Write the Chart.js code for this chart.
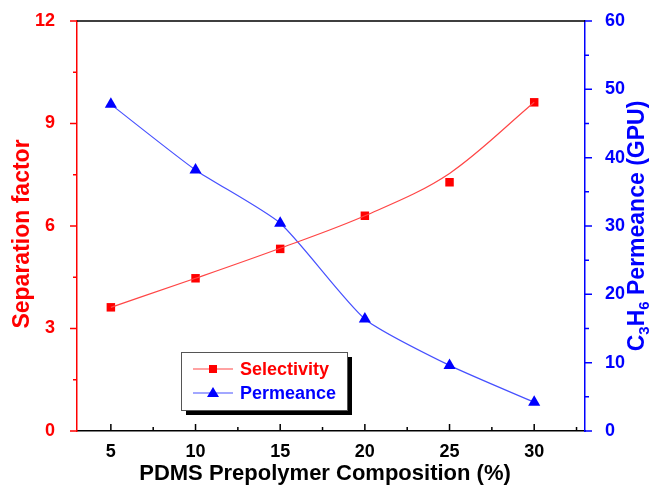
<!DOCTYPE html>
<html>
<head>
<meta charset="utf-8">
<script src="https://cdn.jsdelivr.net/npm/chart.js@4.4.0/dist/chart.umd.min.js"></script>
<style>
  html, body { margin: 0; padding: 0; background: #fff; }
  #wrap { width: 649px; height: 486px; }
</style>
</head>
<body>
<div id="wrap"><canvas id="c"></canvas></div>
<script>
// values
var composition = [5, 10, 15, 20, 25, 30];
var selectivity = [3.62, 4.47, 5.33, 6.3, 7.28, 9.62];
var selectivityFit = [3.62, 4.47, 5.35, 6.3, 7.54, 9.62]; // the drawn curve is a fit, misses the 25% point
var permeance = [47.8, 38.2, 30.4, 16.4, 9.6, 4.2];

var xTicks = [5, 10, 15, 20, 25, 30];
var xMinor = [7.5, 12.5, 17.5, 22.5, 27.5, 32.5];
var leftTicks = [0, 3, 6, 9, 12];
var leftMinor = [1.5, 4.5, 7.5, 10.5];
var rightTicks = [0, 10, 20, 30, 40, 50, 60];
var rightMinor = [5, 15, 25, 35, 45, 55];

var FONT = '"Liberation Sans", Arial, sans-serif';
var RED = '#ff0000', BLUE = '#0000ff';

function pts(xs, ys) {
  return xs.map(function (x, i) { return { x: x, y: ys[i] }; });
}

// ticks, top frame, axis titles and the boxed legend
var extras = {
  id: 'extras',
  afterDraw: function (chart) {
    var ctx = chart.ctx, a = chart.chartArea;
    var sx = chart.scales.x, sl = chart.scales.y, sr = chart.scales.y2;
    ctx.save();
    ctx.lineWidth = 1.5;

    ctx.strokeStyle = '#000';
    ctx.beginPath();
    ctx.moveTo(a.left, a.top); ctx.lineTo(a.right, a.top);
    xTicks.forEach(function (v) {
      var p = sx.getPixelForValue(v);
      ctx.moveTo(p, a.bottom); ctx.lineTo(p, a.bottom - 7);
    });
    xMinor.forEach(function (v) {
      var p = sx.getPixelForValue(v);
      ctx.moveTo(p, a.bottom); ctx.lineTo(p, a.bottom - 4);
    });
    ctx.stroke();

    ctx.strokeStyle = RED;
    ctx.beginPath();
    leftTicks.forEach(function (v) {
      var p = sl.getPixelForValue(v);
      ctx.moveTo(a.left, p); ctx.lineTo(a.left - 7, p);
    });
    leftMinor.forEach(function (v) {
      var p = sl.getPixelForValue(v);
      ctx.moveTo(a.left, p); ctx.lineTo(a.left - 4, p);
    });
    ctx.stroke();

    ctx.strokeStyle = BLUE;
    ctx.beginPath();
    rightTicks.forEach(function (v) {
      var p = sr.getPixelForValue(v);
      ctx.moveTo(a.right, p); ctx.lineTo(a.right + 7, p);
    });
    rightMinor.forEach(function (v) {
      var p = sr.getPixelForValue(v);
      ctx.moveTo(a.right, p); ctx.lineTo(a.right + 4, p);
    });
    ctx.stroke();
    ctx.restore();

    // x title
    ctx.save();
    ctx.font = 'bold 22px ' + FONT;
    ctx.fillStyle = '#000';
    ctx.textAlign = 'center';
    ctx.textBaseline = 'alphabetic';
    ctx.fillText('PDMS Prepolymer Composition (%)', 325, 480);
    ctx.restore();

    // left title
    ctx.save();
    ctx.font = 'bold 23px ' + FONT;
    ctx.fillStyle = RED;
    ctx.textAlign = 'center';
    ctx.textBaseline = 'alphabetic';
    ctx.translate(29, 234);
    ctx.rotate(-Math.PI / 2);
    ctx.fillText('Separation factor', 0, 0);
    ctx.restore();

    // right title with subscripts
    ctx.save();
    ctx.fillStyle = BLUE;
    ctx.textBaseline = 'alphabetic';
    var big = 'bold 23px ' + FONT, small = 'bold 15px ' + FONT;
    var parts = [['C', big, 0], ['3', small, 5], ['H', big, 0], ['6', small, 5], [' Permeance (GPU)', big, 0]];
    var total = 0;
    parts.forEach(function (p) { ctx.font = p[1]; total += ctx.measureText(p[0]).width; });
    ctx.translate(644, 226);
    ctx.rotate(-Math.PI / 2);
    var cx = -total / 2;
    parts.forEach(function (p) {
      ctx.font = p[1];
      ctx.fillText(p[0], cx, p[2]);
      cx += ctx.measureText(p[0]).width;
    });
    ctx.restore();

    // legend box
    ctx.save();
    var lx = 181, ly = 352, lw = 166, lh = 58;
    ctx.fillStyle = '#000';
    ctx.fillRect(lx + 5, ly + 5, lw, lh);
    ctx.fillStyle = '#fff';
    ctx.fillRect(lx, ly, lw, lh);
    ctx.strokeStyle = '#555';
    ctx.lineWidth = 1;
    ctx.strokeRect(lx + 0.5, ly + 0.5, lw, lh);

    ctx.lineWidth = 1.2;
    ctx.strokeStyle = 'rgb(255,70,70)';
    ctx.beginPath(); ctx.moveTo(193, 369); ctx.lineTo(233, 369); ctx.stroke();
    ctx.fillStyle = RED;
    ctx.fillRect(209, 365, 8, 8);
    ctx.strokeStyle = 'rgb(70,80,255)';
    ctx.beginPath(); ctx.moveTo(193, 393); ctx.lineTo(233, 393); ctx.stroke();
    ctx.fillStyle = BLUE;
    ctx.beginPath(); ctx.moveTo(213, 387); ctx.lineTo(219, 397); ctx.lineTo(207, 397); ctx.closePath(); ctx.fill();

    ctx.font = 'bold 18px ' + FONT;
    ctx.textBaseline = 'middle';
    ctx.fillStyle = RED;
    ctx.fillText('Selectivity', 240, 370);
    ctx.fillStyle = BLUE;
    ctx.fillText('Permeance', 240, 394);
    ctx.restore();
  }
};

function fitY(width) {
  return function (s) {
    s.width = width;
    s.paddingTop = 0;
    s.paddingBottom = 0;
  };
}

new Chart(document.getElementById('c'), {
  type: 'line',
  data: {
    datasets: [
      {
        label: 'Selectivity fit',
        data: pts(composition, selectivityFit),
        yAxisID: 'y',
        borderColor: 'rgb(255,70,70)',
        borderWidth: 1.2,
        pointRadius: 0,
        cubicInterpolationMode: 'monotone'
      },
      {
        label: 'Selectivity',
        data: pts(composition, selectivity),
        yAxisID: 'y',
        showLine: false,
        pointStyle: 'rect',
        pointRadius: 6,
        backgroundColor: RED,
        borderColor: RED,
        borderWidth: 0
      },
      {
        label: 'Permeance',
        data: pts(composition, permeance),
        yAxisID: 'y2',
        borderColor: 'rgb(70,80,255)',
        borderWidth: 1.2,
        tension: 0.2,
        pointStyle: 'triangle',
        pointRadius: 7,
        backgroundColor: BLUE,
        pointBorderColor: BLUE,
        pointBorderWidth: 0
      }
    ]
  },
  options: {
    responsive: true,
    maintainAspectRatio: false,
    animation: false,
    layout: { padding: { top: 21, left: 0, right: 0, bottom: 0 } },
    plugins: { legend: { display: false }, tooltip: { enabled: false } },
    scales: {
      x: {
        type: 'linear',
        min: 3, max: 33,
        afterBuildTicks: function (s) { s.ticks = xTicks.map(function (v) { return { value: v }; }); },
        afterFit: function (s) { s.height = 55; s.paddingLeft = 0; s.paddingRight = 0; },
        grid: { display: false },
        border: { color: '#000', width: 1.5 },
        ticks: { color: '#000', font: { family: FONT, size: 18, weight: 'bold' }, padding: 2, maxRotation: 0 }
      },
      y: {
        position: 'left',
        min: 0, max: 12,
        afterBuildTicks: function (s) { s.ticks = leftTicks.map(function (v) { return { value: v }; }); },
        afterFit: fitY(77),
        grid: { display: false },
        border: { color: RED, width: 1.5 },
        ticks: { color: RED, font: { family: FONT, size: 18, weight: 'bold' }, padding: 14 }
      },
      y2: {
        position: 'right',
        min: 0, max: 60,
        afterBuildTicks: function (s) { s.ticks = rightTicks.map(function (v) { return { value: v }; }); },
        afterFit: fitY(64),
        grid: { display: false },
        border: { color: BLUE, width: 1.5 },
        ticks: { color: BLUE, font: { family: FONT, size: 18, weight: 'bold' }, padding: 12 }
      }
    }
  },
  plugins: [extras]
});
</script>
</body>
</html>
